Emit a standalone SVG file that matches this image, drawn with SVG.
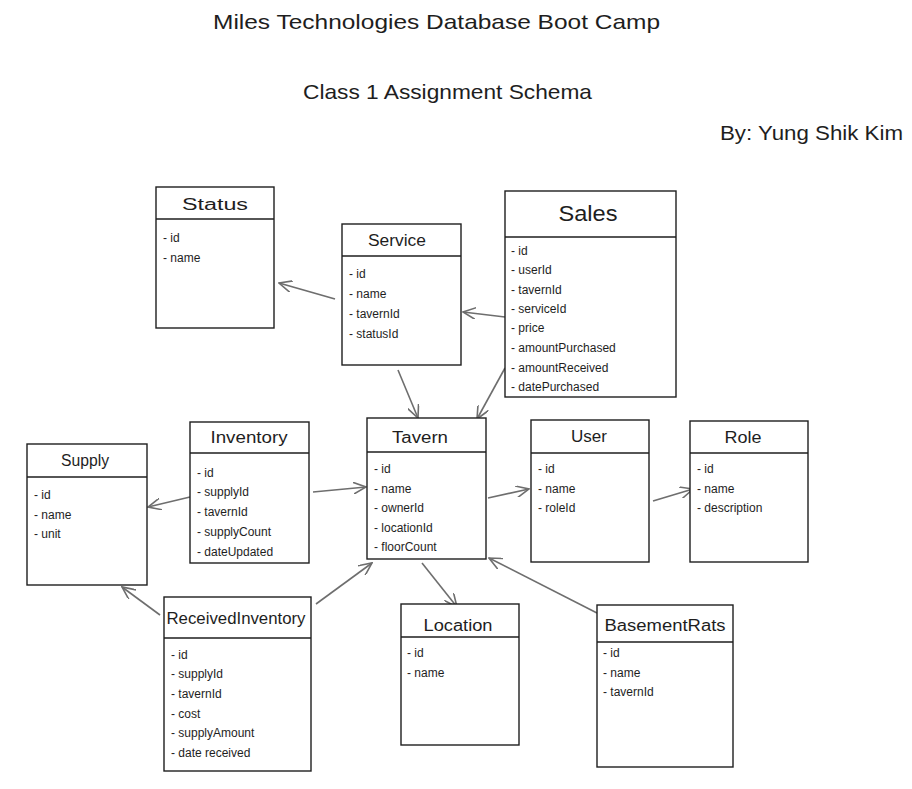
<svg xmlns="http://www.w3.org/2000/svg" width="912" height="789" viewBox="0 0 912 789">
<defs>
<style>
.bg{fill:#ffffff}
.box{fill:#ffffff;stroke:#1e1e1e;stroke-width:1.4}
.div{stroke:#1e1e1e;stroke-width:1.4}
.title{font-family:"Liberation Sans",Arial,sans-serif;font-size:16px;fill:#1e1e1e;text-anchor:middle}
.item{font-family:"Liberation Sans",Arial,sans-serif;font-size:12px;fill:#1e1e1e}
.head{font-family:"Liberation Sans",Arial,sans-serif;font-size:21px;fill:#1e1e1e}
.conn{stroke:#6e6e6e;stroke-width:1.6;fill:none;marker-end:url(#arr)}
</style>
<marker id="arr" viewBox="0 0 14 12" refX="13" refY="6" markerWidth="14" markerHeight="12" markerUnits="userSpaceOnUse" orient="auto">
<path d="M0,0 L13,6 L0,12" fill="none" stroke="#6e6e6e" stroke-width="1.6"/>
</marker>
</defs>
<rect class="bg" x="0" y="0" width="912" height="789"/>

<g id="headings">
<text class="head" x="213" y="29" textLength="447" lengthAdjust="spacingAndGlyphs">Miles Technologies Database Boot Camp</text>
<text class="head" x="303" y="99" textLength="289" lengthAdjust="spacingAndGlyphs">Class 1 Assignment Schema</text>
<text class="head" x="720" y="140" textLength="183" lengthAdjust="spacingAndGlyphs">By: Yung Shik Kim</text>
</g>

<g id="connectors">
<line class="conn" x1="335" y1="299" x2="279" y2="283"/>
<line class="conn" x1="505" y1="317" x2="463" y2="312"/>
<line class="conn" x1="398" y1="370" x2="418" y2="418"/>
<line class="conn" x1="505" y1="368" x2="477" y2="419"/>
<line class="conn" x1="190" y1="497" x2="148" y2="507"/>
<line class="conn" x1="313" y1="492" x2="366" y2="487"/>
<line class="conn" x1="488" y1="498" x2="529" y2="489"/>
<line class="conn" x1="653" y1="501" x2="693" y2="489"/>
<line class="conn" x1="160" y1="615" x2="122" y2="587"/>
<line class="conn" x1="316" y1="604" x2="372" y2="563"/>
<line class="conn" x1="422" y1="563" x2="457" y2="607"/>
<line class="conn" x1="597" y1="613" x2="489" y2="558"/>
</g>

<g id="Status">
<rect class="box" x="156" y="187" width="118" height="141"/>
<line class="div" x1="156" y1="219" x2="274" y2="219"/>
<text class="title" x="215" y="210" textLength="66" lengthAdjust="spacingAndGlyphs">Status</text>
<text class="item" x="163" y="242">- id</text>
<text class="item" x="163" y="262">- name</text>
</g>

<g id="Service">
<rect class="box" x="342" y="224" width="119" height="141"/>
<line class="div" x1="342" y1="256" x2="461" y2="256"/>
<text class="title" x="397" y="246" textLength="58" lengthAdjust="spacingAndGlyphs">Service</text>
<text class="item" x="349" y="278">- id</text>
<text class="item" x="349" y="298">- name</text>
<text class="item" x="349" y="318">- tavernId</text>
<text class="item" x="349" y="338">- statusId</text>
</g>

<g id="Sales">
<rect class="box" x="505" y="191" width="171" height="206"/>
<line class="div" x1="505" y1="237" x2="676" y2="237"/>
<text class="title" x="588" y="221" style="font-size:22px" textLength="59" lengthAdjust="spacingAndGlyphs">Sales</text>
<text class="item" x="511" y="255">- id</text>
<text class="item" x="511" y="274">- userId</text>
<text class="item" x="511" y="294">- tavernId</text>
<text class="item" x="511" y="313">- serviceId</text>
<text class="item" x="511" y="332">- price</text>
<text class="item" x="511" y="352">- amountPurchased</text>
<text class="item" x="511" y="372">- amountReceived</text>
<text class="item" x="511" y="391">- datePurchased</text>
</g>

<g id="Supply">
<rect class="box" x="27" y="444" width="120" height="141"/>
<line class="div" x1="27" y1="477" x2="147" y2="477"/>
<text class="title" x="85" y="466" textLength="48" lengthAdjust="spacingAndGlyphs">Supply</text>
<text class="item" x="34" y="499">- id</text>
<text class="item" x="34" y="519">- name</text>
<text class="item" x="34" y="538">- unit</text>
</g>

<g id="Inventory">
<rect class="box" x="190" y="422" width="119" height="141"/>
<line class="div" x1="190" y1="453" x2="309" y2="453"/>
<text class="title" x="249" y="443" textLength="77" lengthAdjust="spacingAndGlyphs">Inventory</text>
<text class="item" x="197" y="477">- id</text>
<text class="item" x="197" y="496">- supplyId</text>
<text class="item" x="197" y="516">- tavernId</text>
<text class="item" x="197" y="536">- supplyCount</text>
<text class="item" x="197" y="556">- dateUpdated</text>
</g>

<g id="Tavern">
<rect class="box" x="367" y="418" width="119" height="141"/>
<line class="div" x1="367" y1="452" x2="486" y2="452"/>
<text class="title" x="420" y="443" textLength="56" lengthAdjust="spacingAndGlyphs">Tavern</text>
<text class="item" x="374" y="473">- id</text>
<text class="item" x="374" y="493">- name</text>
<text class="item" x="374" y="512">- ownerId</text>
<text class="item" x="374" y="532">- locationId</text>
<text class="item" x="374" y="551">- floorCount</text>
</g>

<g id="User">
<rect class="box" x="531" y="420" width="118" height="142"/>
<line class="div" x1="531" y1="453" x2="649" y2="453"/>
<text class="title" x="589" y="442" textLength="36" lengthAdjust="spacingAndGlyphs">User</text>
<text class="item" x="538" y="473">- id</text>
<text class="item" x="538" y="493">- name</text>
<text class="item" x="538" y="512">- roleId</text>
</g>

<g id="Role">
<rect class="box" x="690" y="421" width="118" height="141"/>
<line class="div" x1="690" y1="453" x2="808" y2="453"/>
<text class="title" x="743" y="443" textLength="37" lengthAdjust="spacingAndGlyphs">Role</text>
<text class="item" x="697" y="473">- id</text>
<text class="item" x="697" y="493">- name</text>
<text class="item" x="697" y="512">- description</text>
</g>

<g id="ReceivedInventory">
<rect class="box" x="164" y="597" width="147" height="174"/>
<line class="div" x1="164" y1="638" x2="311" y2="638"/>
<text class="title" x="236" y="624" textLength="139" lengthAdjust="spacingAndGlyphs">ReceivedInventory</text>
<text class="item" x="171" y="659">- id</text>
<text class="item" x="171" y="678">- supplyId</text>
<text class="item" x="171" y="698">- tavernId</text>
<text class="item" x="171" y="718">- cost</text>
<text class="item" x="171" y="737">- supplyAmount</text>
<text class="item" x="171" y="757">- date received</text>
</g>

<g id="Location">
<rect class="box" x="401" y="604" width="118" height="141"/>
<line class="div" x1="401" y1="637" x2="519" y2="637"/>
<text class="title" x="458" y="631" textLength="69" lengthAdjust="spacingAndGlyphs">Location</text>
<text class="item" x="407" y="657">- id</text>
<text class="item" x="407" y="677">- name</text>
</g>

<g id="BasementRats">
<rect class="box" x="597" y="605" width="136" height="162"/>
<line class="div" x1="597" y1="642" x2="733" y2="642"/>
<text class="title" x="665" y="631" textLength="121" lengthAdjust="spacingAndGlyphs">BasementRats</text>
<text class="item" x="603" y="657">- id</text>
<text class="item" x="603" y="677">- name</text>
<text class="item" x="603" y="696">- tavernId</text>
</g>
</svg>
